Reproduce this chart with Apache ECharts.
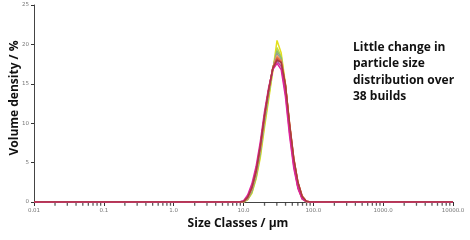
<!DOCTYPE html>
<html><head><meta charset="utf-8">
<script src="https://cdn.jsdelivr.net/npm/echarts@6/dist/echarts.min.js"></script>
<style>html,body{margin:0;padding:0;background:#fff}#c{width:470px;height:240px}</style>
</head><body><div id="c"></div>
<script>
// Size classes (µm)
const sizes = [0.01, 1.0, 8.71, 10.0, 11.48, 13.18, 15.14, 17.38, 19.95, 22.91, 26.30, 30.20, 34.67, 39.81, 45.71, 52.48, 60.26, 69.18, 79.43, 91.20, 104.7, 1000, 10000];
// Volume density (%) for a selection of builds
const buildYellow  = [0,0,0, 0,0.3,1.1,2.9,5.6,9.4,13.0,16.6,20.5,18.9,15.0,9.6,4.9,1.8,0.4,0,0, 0,0,0];
const buildLime    = [0,0,0, 0,0.3,1.2,3.1,5.9,9.8,13.4,16.8,19.6,18.5,14.7,9.4,4.9,1.9,0.5,0.05,0, 0,0,0];
const buildGreen   = [0,0,0, 0,0.35,1.3,3.2,6.2,10.1,13.6,16.9,19.2,18.3,14.6,9.4,4.9,1.9,0.5,0.05,0, 0,0,0];
const buildGrey    = [0,0,0, 0.05,0.4,1.5,3.5,6.5,10.4,13.9,17.0,18.9,18.0,14.6,9.5,5.1,2.1,0.6,0.05,0, 0,0,0];
const buildTeal    = [0,0,0, 0.05,0.45,1.6,3.6,6.6,10.5,14.0,17.0,18.7,17.9,14.5,9.4,5.1,2.1,0.6,0.05,0, 0,0,0];
const buildSalmon  = [0,0,0, 0.05,0.5,1.7,3.7,6.8,10.7,14.1,17.0,18.6,17.9,14.8,9.8,5.4,2.4,0.7,0.1,0, 0,0,0];
const buildOrange  = [0,0,0, 0.05,0.5,1.7,3.8,6.9,10.8,14.2,17.1,18.4,17.9,15.0,10.0,5.6,2.5,0.8,0.1,0, 0,0,0];
const buildRed     = [0,0,0, 0.05,0.6,1.8,3.9,7.0,10.9,14.2,17.0,18.2,17.7,14.8,9.8,5.4,2.4,0.7,0.1,0, 0,0,0];
const buildPurple  = [0,0,0, 0.1,0.7,2.0,4.1,7.2,11.0,14.3,16.9,17.9,17.2,13.9,8.8,4.6,1.9,0.4,0.05,0, 0,0,0];
const buildMagenta = [0,0,0, 0.15,0.9,2.3,4.5,7.6,11.4,14.5,16.8,17.6,16.8,13.4,8.4,4.3,1.7,0.4,0.05,0, 0,0,0];
const buildBrown   = [0,0,0, 0.05,0.6,1.8,3.9,7.0,10.9,14.2,17.0,18.0,17.7,14.9,9.9,5.5,2.5,0.7,0.1,0, 0,0,0];

const xTickLabels = ['0.01','0.1','1.0','10.0','100.0','1000.0','10000.0'];
const yTicks = [0,5,10,15,20,25];

const builds = [
  [buildYellow,'#e4e01c'],[buildLime,'#c6d640'],[buildGreen,'#8cc06a'],[buildGrey,'#9c9c92'],
  [buildTeal,'#7fa3a0'],[buildSalmon,'#f2a07c'],[buildOrange,'#e8803c'],[buildRed,'#d4504a'],
  [buildPurple,'#b44aa8'],[buildMagenta,'#e0229c'],[buildBrown,'#a83c3c']
];

// minor log ticks (2..9 per decade)
const minorTicks = [];
for (let e = -2; e < 4; e++) for (let m = 2; m <= 9; m++) minorTicks.push(m * Math.pow(10, e));

const series = builds.map(([arr, color]) => ({
  type:'line', data: sizes.map((s,i)=>[s, arr[i]]), showSymbol:false, symbol:'none',
  lineStyle:{color, width:1.5}, itemStyle:{color}, z:3
}));
series.push({
  type:'scatter', clip:false, silent:true, z:2,
  data: minorTicks.map(v=>[v,0]),
  symbol:'rect', symbolSize:[1.3,3.5], symbolOffset:[0,2],
  itemStyle:{color:'#333'}
});

const chart = echarts.init(document.getElementById('c'), null, {renderer:'canvas'});
chart.setOption({
  animation:false,
  backgroundColor:'#fff',
  grid:{left:34, right:17, top:5, bottom:38, containLabel:false},
  xAxis:{
    type:'log', logBase:10, min:0.01, max:10000, interval:1,
    axisLine:{show:true, lineStyle:{color:'#444', width:1}},
    axisTick:{show:true, length:4, lineStyle:{color:'#333'}},
    minorTick:{show:false}, splitLine:{show:false},
    axisLabel:{fontSize:5.5, color:'#777', margin:6, fontFamily:'DejaVu Sans',
      formatter:(v)=>xTickLabels[Math.round(Math.log10(v))+2] || ''}
  },
  yAxis:{
    type:'value', min:yTicks[0], max:yTicks[yTicks.length-1], interval:5,
    axisLine:{show:true, lineStyle:{color:'#444', width:1}},
    axisTick:{show:true, length:3, lineStyle:{color:'#333'}},
    splitLine:{show:false},
    axisLabel:{fontSize:5.5, color:'#777', margin:5, fontFamily:'DejaVu Sans'}
  },
  graphic:[
    {type:'text', left:353, top:39, style:{text:'Little change in\nparticle size\ndistribution over\n38 builds',
      font:'bold 12px "Open Sans"', fill:'#111', lineHeight:16.5}},
    {type:'text', x:238, y:224, style:{text:'Size Classes / µm', font:'bold 12px "Open Sans"', fill:'#111',
      align:'center', verticalAlign:'middle'}},
    {type:'text', x:15, y:98, rotation:Math.PI/2, style:{text:'Volume density / %', font:'bold 12px "Open Sans"', fill:'#111',
      align:'center', verticalAlign:'middle'}}
  ],
  series
});
</script></body></html>
